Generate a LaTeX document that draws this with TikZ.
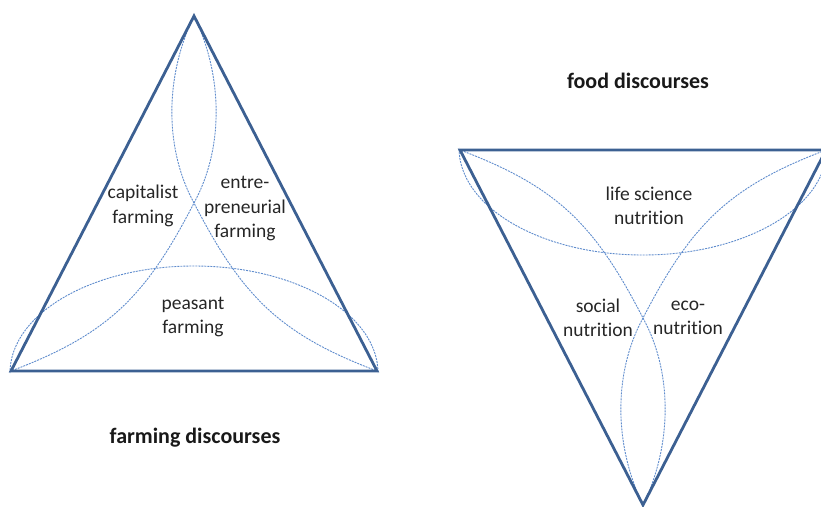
\documentclass[tikz,border=0pt]{standalone}
\usepackage{fontspec}
\setmainfont{Carlito}[Ligatures=NoCommon]
\definecolor{triblue}{RGB}{60,96,146}
\definecolor{lensblue}{RGB}{95,140,205}
\tikzset{
  side/.style={draw=triblue,line width=2.8pt},
  lens/.style={draw=lensblue,line width=0.9pt,dash pattern=on 2pt off 1pt},
  field/.style={font=\fontsize{19.5}{24.5}\selectfont,align=center,text=black!85},
  title/.style={font=\fontsize{22}{26}\selectfont\bfseries,anchor=base,text=black!90}
}

\begin{document}
\begin{tikzpicture}[x=1pt,y=-1pt]
\useasboundingbox (0,0) rectangle (821,506);

% the two triangles, the second one turned upside down
\foreach \px/\py/\rot in {194/16/0,643/505/180}{
  \begin{scope}[shift={(\px,\py)},rotate=\rot]
    \draw[lens] (-184,357) .. controls (-184,298) and (-102,250) .. (0,250)
                .. controls (102,250) and (184,298) .. (184,357);
    \draw[lens] (0,0) .. controls (-28,57) and (-31,130) .. (0,187)
                .. controls (48,280) and (85,318) .. (183,355);
    \draw[lens] (0,0) .. controls (28,57) and (31,130) .. (0,187)
                .. controls (-48,280) and (-85,318) .. (-183,355);
    \draw[side] (0,0) -- (-183,355) -- (183,355) -- cycle;
  \end{scope}
}

\node[field] (capitalist) at (143,206) {capitalist\\farming};
\node[field] (entre) at (245,209) {entre-\\preneurial\\farming};
\node[field] (peasant) at (193,317) {peasant\\farming};

\node[field] (life) at (649,206) {life science\\nutrition};
\node[field] (social) at (598,318) {social\\nutrition};
\node[field] (eco) at (688,318) {eco-\\nutrition};

\node[title] (farmtitle) at (195,443) {farming discourses};
\node[title] (foodtitle) at (638,88) {food discourses};
\end{tikzpicture}
\end{document}
